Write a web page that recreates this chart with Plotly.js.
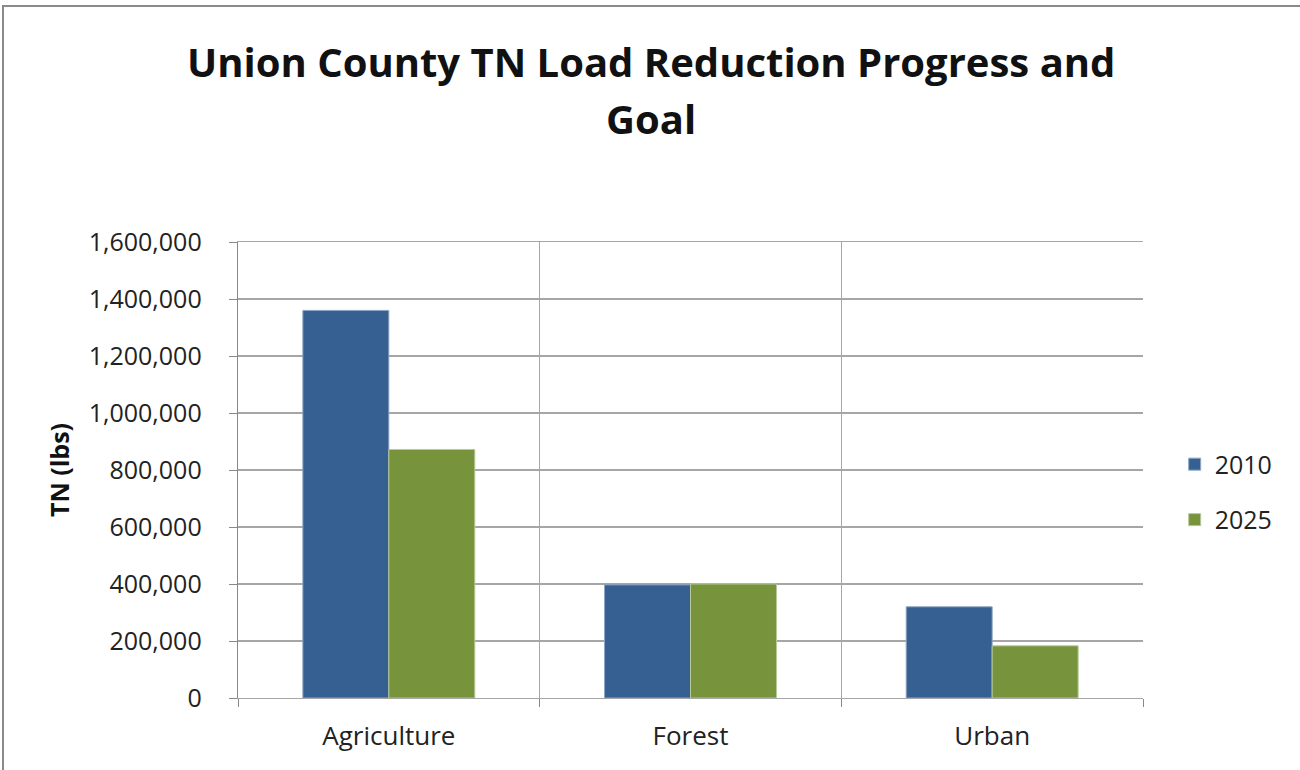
<!DOCTYPE html>
<html>
<head>
<meta charset="utf-8">
<script src="https://cdn.plot.ly/plotly-3.0.1.min.js"></script>
<style>
  html, body { margin: 0; padding: 0; background: #fff; }
  #frame { position: absolute; width: 1300px; height: 770px; box-sizing: border-box;
           border-top: 2px solid #8a8a8a; border-left: 2px solid #8a8a8a; top: 5px; left: 2px; }
  #chart { position: absolute; left: 0; top: 0; width: 1300px; height: 770px; }
</style>
</head>
<body>
<div id="chart"></div>
<div id="frame"></div>
<script>
const categories = ["Agriculture", "Forest", "Urban"];
const values2010 = [1360000, 397000, 320000];
const values2025 = [872000, 400000, 183000];
const seriesNames = ["2010", "2025"];
const yTicks = [0, 200000, 400000, 600000, 800000, 1000000, 1200000, 1400000, 1600000];
const titleLines = ["Union County TN Load Reduction Progress and", "Goal"];

const font = "'Open Sans', 'DejaVu Sans', sans-serif";

const traces = [
  { type: "bar", name: seriesNames[0], x: categories, y: values2010, legendgroup: "a",
    marker: { color: "#376092", line: { color: "#8ea6c4", width: 1 } } },
  { type: "bar", name: seriesNames[1], x: categories, y: values2025, legendgroup: "b",
    marker: { color: "#77933c", line: { color: "#b7c99a", width: 1 } } }
];

const layout = {
  width: 1300, height: 770,
  paper_bgcolor: "#fff", plot_bgcolor: "#fff",
  margin: { l: 238, r: 157, t: 242, b: 72 },
  barmode: "group", bargap: 0.43, bargroupgap: 0,
  font: { family: font, color: "#222", size: 24 },
  annotations: [
    { text: "<b>" + titleLines[0] + "</b>", xref: "paper", yref: "paper", x: 0.456, y: 1 + (242 - 62) / 456,
      xanchor: "center", yanchor: "middle", showarrow: false, font: { family: font, size: 40, color: "#111" } },
    { text: "<b>" + titleLines[1] + "</b>", xref: "paper", yref: "paper", x: 0.456, y: 1 + (242 - 119) / 456,
      xanchor: "center", yanchor: "middle", showarrow: false, font: { family: font, size: 40, color: "#111" } }
  ],
  xaxis: {
    type: "category", tickson: "boundaries", ticks: "outside", ticklen: 8, tickcolor: "#888",
    showgrid: true, gridcolor: "#a6a6a6", gridwidth: 1.3,
    showline: true, linecolor: "#a6a6a6", linewidth: 1.3, mirror: true,
    tickfont: { family: font, size: 26, color: "#222" }, ticklabelstandoff: 14, range: [-0.5, 2.5]
  },
  yaxis: {
    range: [0, 1600000], tickvals: yTicks, tickformat: ",d",
    ticks: "outside", ticklen: 8, tickcolor: "#888",
    showgrid: true, gridcolor: "#a6a6a6", gridwidth: 1.3,
    showline: true, linecolor: "#888", linewidth: 1.3, zeroline: false,
    tickfont: { family: font, size: 25, color: "#222" }, ticklabelstandoff: 22,
    title: { text: "<b>TN (lbs)</b>", font: { family: font, size: 25, color: "#111" }, standoff: 12 }
  },
  legend: {
    x: 1.035, xanchor: "left", y: 0.452, yanchor: "middle",
    font: { family: font, size: 25, color: "#222" },
    tracegroupgap: 20, itemwidth: 30
  },
  showlegend: true
};

Plotly.newPlot("chart", traces, layout, { displayModeBar: false, staticPlot: true });
</script>
</body>
</html>
